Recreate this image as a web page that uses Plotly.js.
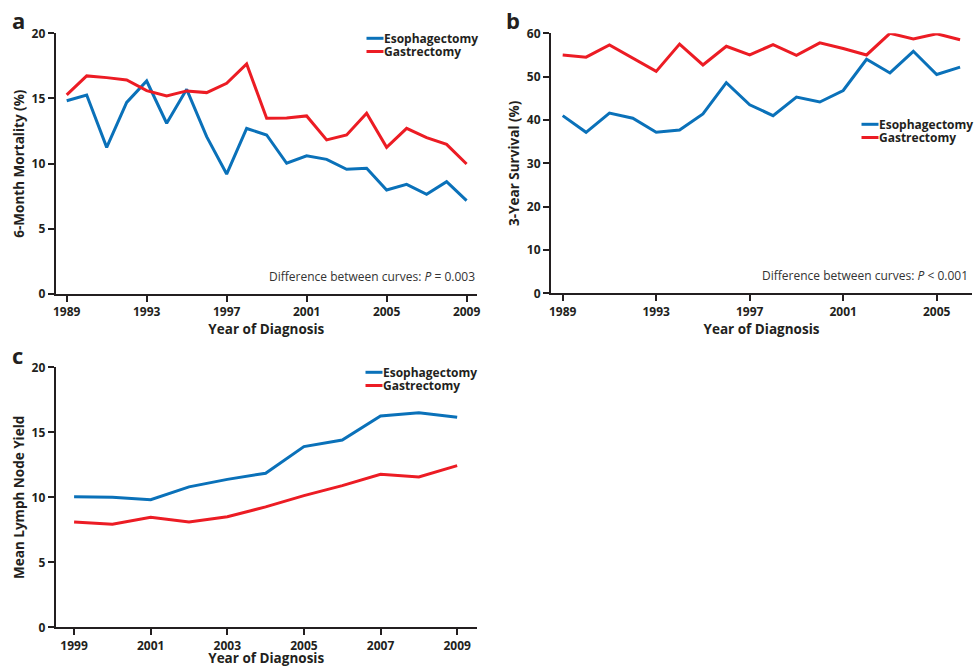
<!DOCTYPE html>
<html>
<head>
<meta charset="utf-8">
<script src="https://cdn.plot.ly/plotly-3.0.1.min.js"></script>
<style>html,body{margin:0;padding:0;background:#fff}#chart{width:975px;height:667px}</style>
</head>
<body>
<div id="chart"></div>
<script>
// Panel a: 6-month mortality (%)
const yearsA = [1989,1990,1991,1992,1993,1994,1995,1996,1997,1998,1999,2000,2001,2002,2003,2004,2005,2006,2007,2008,2009];
const mortEsoph = [14.83,15.27,11.25,14.7,16.34,13.1,15.7,12.07,9.2,12.7,12.2,10.03,10.6,10.33,9.57,9.64,7.98,8.41,7.65,8.62,7.16];
const mortGastr = [15.27,16.73,16.6,16.42,15.6,15.19,15.58,15.45,16.16,17.65,13.48,13.5,13.66,11.82,12.2,13.86,11.25,12.71,11.99,11.48,9.97];

// Panel b: 3-year survival (%)
const yearsB = [1989,1990,1991,1992,1993,1994,1995,1996,1997,1998,1999,2000,2001,2002,2003,2004,2005,2006];
const survEsoph = [41.0,37.15,41.6,40.4,37.15,37.7,41.4,48.6,43.5,41.0,45.3,44.15,46.8,54.0,50.85,55.85,50.5,52.2];
const survGastr = [55.0,54.5,57.3,54.2,51.2,57.5,52.7,57.0,55.0,57.4,54.9,57.8,56.5,55.0,60.0,58.7,59.9,58.5];

// Panel c: mean lymph node yield
const yearsC = [1999,2000,2001,2002,2003,2004,2005,2006,2007,2008,2009];
const nodesEsoph = [10.05,10.0,9.82,10.8,11.38,11.85,13.9,14.41,16.26,16.51,16.15];
const nodesGastr = [8.1,7.92,8.46,8.1,8.51,9.26,10.13,10.9,11.77,11.56,12.44];

const seriesNames = ['Esophagectomy','Gastrectomy'];
const ticksA = [1989,1993,1997,2001,2005,2009];
const ticksB = [1989,1993,1997,2001,2005];
const ticksC = [1999,2001,2003,2005,2007,2009];

const BLUE = '#0a71b9';
const RED = '#ec1c24';
const COLORS = [BLUE, RED];
const INK = '#231f20';
const FONT = 'Open Sans, Noto Sans, sans-serif';

function tr(x, y, i, xa, ya) {
  return {x: x, y: y, name: seriesNames[i], type: 'scatter', mode: 'lines',
    line: {color: COLORS[i], width: 3}, xaxis: xa, yaxis: ya, showlegend: false,
    hoverinfo: 'x+y+name'};
}

const data = [
  tr(yearsA, mortEsoph, 0, 'x', 'y'),
  tr(yearsA, mortGastr, 1, 'x', 'y'),
  tr(yearsB, survEsoph, 0, 'x2', 'y2'),
  tr(yearsB, survGastr, 1, 'x2', 'y2'),
  tr(yearsC, nodesEsoph, 0, 'x3', 'y3'),
  tr(yearsC, nodesGastr, 1, 'x3', 'y3')
];

function xax(domain, range, ticks, anchor, standoff) {
  return {domain: domain, range: range, anchor: anchor, tickmode: 'array', tickvals: ticks,
    ticktext: ticks.map(String), showgrid: false, zeroline: false, showline: true,
    linecolor: INK, linewidth: 2, ticks: 'outside', ticklen: 6, tickwidth: 2, tickcolor: INK,
    tickfont: {family: FONT, size: 12, color: INK, weight: 700},
    title: {text: 'Year of Diagnosis', standoff: standoff, font: {family: FONT, size: 13.5, color: INK, weight: 700}}};
}
function yax(domain, range, dtick, anchor, title) {
  return {domain: domain, range: range, anchor: anchor, tick0: 0, dtick: dtick,
    showgrid: false, zeroline: false, showline: true,
    linecolor: INK, linewidth: 2, ticks: 'outside', ticklen: 6, tickwidth: 2, tickcolor: INK,
    tickfont: {family: FONT, size: 12, color: INK, weight: 700},
    title: {text: title, standoff: 4, font: {family: FONT, size: 13.5, color: INK, weight: 700}}};
}

const W = 975, H = 667;
const px = v => v / W;
const py = v => 1 - v / H;

const panelLabel = (x, y, t) => ({xref: 'paper', yref: 'paper', x: px(x), y: py(y), text: t,
  showarrow: false, xanchor: 'left', yanchor: 'middle', font: {family: FONT, size: 22, color: INK, weight: 700}});
const pNote = (x, y, t) => ({xref: 'paper', yref: 'paper', x: px(x), y: py(y), text: t,
  showarrow: false, xanchor: 'right', yanchor: 'middle', font: {family: FONT, size: 12, color: '#333'}});

// Legend keys (line + label) for each panel: [left x of key line, y of first row]
const legendSpots = [[366.5, 38.3], [861.5, 124.3], [365.5, 372.3]];
const ROW = 13.2, KEYLEN = 17;
const shapes = [];
const annotations = [
  panelLabel(10, 20, 'a'),
  panelLabel(504, 20, 'b'),
  panelLabel(10, 355, 'c'),
  pNote(477, 277, 'Difference between curves: <i>P</i> = 0.003'),
  pNote(970, 276, 'Difference between curves: <i>P</i> < 0.001')
];
legendSpots.forEach(([lx, ly]) => {
  seriesNames.forEach((nm, i) => {
    const yy = ly + i * ROW;
    shapes.push({type: 'line', xref: 'paper', yref: 'paper', x0: px(lx), x1: px(lx + KEYLEN),
      y0: py(yy), y1: py(yy), line: {color: COLORS[i], width: 3}});
    annotations.push({xref: 'paper', yref: 'paper', x: px(lx + KEYLEN + 1), y: py(yy), text: nm,
      showarrow: false, xanchor: 'left', yanchor: 'middle', xshift: -2, borderpad: 0,
      font: {family: FONT, size: 12, color: INK, weight: 700}});
  });
});

const layout = {
  width: W, height: H, margin: {l: 0, r: 0, t: 0, b: 0, autoexpand: false},
  paper_bgcolor: '#fff', plot_bgcolor: '#fff', showlegend: false,
  xaxis: xax([px(55.7), px(477)], [1988.45, 2009.52], ticksA, 'y', 0),
  yaxis: yax([py(294), py(33.3)], [0, 20], 5, 'x', '6-Month Mortality (%)'),
  xaxis2: xax([px(551), px(972)], [1988.5, 2006.51], ticksB, 'y2', 0),
  yaxis2: yax([py(293.3), py(33.3)], [0, 60], 10, 'x2', '3-Year Survival (%)'),
  xaxis3: xax([px(55.7), px(476.7)], [1998.52, 2009.51], ticksC, 'y3', 1),
  yaxis3: yax([py(627.3), py(367.3)], [0, 20], 5, 'x3', 'Mean Lymph Node Yield'),
  shapes: shapes,
  annotations: annotations
};

Plotly.newPlot('chart', data, layout, {displayModeBar: false, responsive: false});
</script>
</body>
</html>
